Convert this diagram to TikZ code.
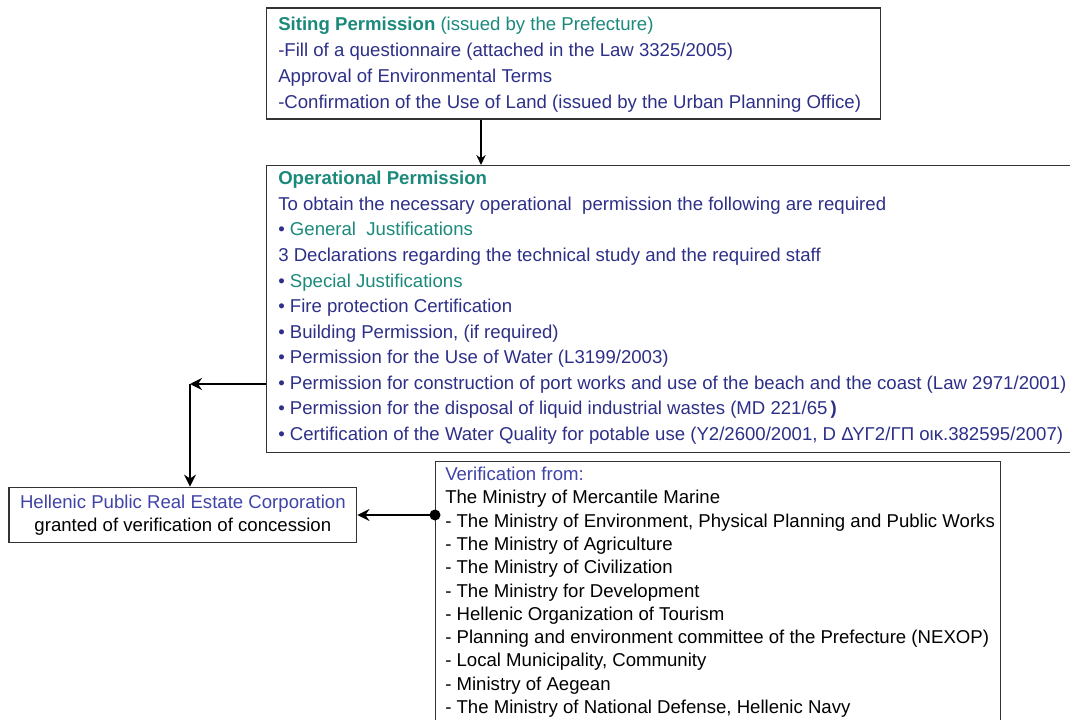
\documentclass[tikz,border=0pt]{standalone}
\usepackage{fontspec}
\setmainfont{Liberation Sans}
\usetikzlibrary{arrows.meta}
\definecolor{teal1}{HTML}{1B8A7C}
\definecolor{navy1}{HTML}{2E3088}
\definecolor{blue1}{HTML}{4044A8}
\definecolor{frame1}{HTML}{333333}
\newcommand{\fsz}{\fontsize{13.95pt}{17pt}\selectfont}
\begin{document}
\begin{tikzpicture}[x=0.75pt,y=-0.75pt,
  box/.style={draw=frame1, line width=1.1pt, anchor=north west, inner sep=0pt, fill=white},
  ln/.style={anchor=base west, inner sep=0pt, font=\fsz, text=navy1},
  hd/.style={ln, text=teal1},
  bl/.style={ln, text=black},
  arr/.style={line width=1.4pt, -{Stealth[length=9pt,width=9pt,inset=3pt]}},
  arrs/.style={line width=1.4pt, -{Stealth[length=7.5pt,width=7pt,inset=2.5pt]}},
  ]
\useasboundingbox (0,0) rectangle (1070,720);
\clip (0,0) rectangle (1070,720);
\fill[white] (0,0) rectangle (1070,720);

% boxes
\node[box, minimum width=460.5pt, minimum height=83.25pt] (siting) at (266,7.5) {};
\node[box, minimum width=625.5pt, minimum height=215pt] (op) at (266,165) {};
\node[draw=frame1, line width=1.1pt, inner sep=0pt, minimum width=260.8pt, minimum height=41.55pt,
      align=center, font=\fontsize{13.95pt}{17.25pt}\selectfont] (hell) at (182.85,515)
      {\textcolor{blue1}{Hellenic Public Real Estate Corporation}\\granted of verification of concession};
\node[box, minimum width=423.75pt, minimum height=224.25pt] (ver) at (435,461) {};

% siting text
\node[hd] (s1) at (278,31) {\textbf{Siting Permission} (issued by the Prefecture)};
\node[ln] (s2) at (278,57) {-Fill of a questionnaire (attached in the Law 3325/2005)};
\node[ln] (s3) at (278,83) {Approval of Environmental Terms};
\node[ln] (s4) at (278,108.5) {-Confirmation of the Use of Land (issued by the Urban Planning Office)};

% operational text
\node[hd] (o1) at (278,185) {\textbf{Operational Permission}};
\node[ln] (o2) at (278,210.5) {To obtain the necessary operational~ permission the following are required};
\node[ln] (o3) at (278,236) {• \textcolor{teal1}{General~ Justifications}};
\node[ln] (o4) at (278,261.5) {3 Declarations regarding the technical study and the required staff};
\node[ln] (o5) at (278,287) {• \textcolor{teal1}{Special Justifications}};
\node[ln] (o6) at (278,312.5) {• Fire protection Certification};
\node[ln] (o7) at (278,338) {• Building Permission, (if required)};
\node[ln] (o8) at (278,363.5) {• Permission for the Use of Water (L3199/2003)};
\node[ln] (o9) at (278,389) {• Permission for construction of port works and use of the beach and the coast (Law 2971/2001)};
\node[ln] (o10) at (278,414.5) {• Permission for the disposal of liquid industrial wastes (MD 221/65\,\textbf{)}};
\node[ln] (o11) at (278,440) {• Certification of the Water Quality for potable use (Υ2/2600/2001, D ΔΥΓ2/ΓΠ οικ.382595/2007)};

% verification text
\node[ln, text=blue1] (v1) at (445,480.5) {Verification from:};
\node[bl] (v2) at (445,503.8) {The Ministry of Mercantile Marine};
\node[bl] (v3) at (445,527.1) {- The Ministry of Environment, Physical Planning and Public Works};
\node[bl] (v4) at (445,550.4) {- The Ministry of Agriculture};
\node[bl] (v5) at (445,573.7) {- The Ministry of Civilization};
\node[bl] (v6) at (445,597) {- The Ministry for Development};
\node[bl] (v7) at (445,620.3) {- Hellenic Organization of Tourism};
\node[bl] (v8) at (445,643.6) {- Planning and environment committee of the Prefecture (NEXOP)};
\node[bl] (v9) at (445,666.9) {- Local Municipality, Community};
\node[bl] (v10) at (445,690.2) {- Ministry of Aegean};
\node[bl] (v11) at (445,713.5) {- The Ministry of National Defense, Hellenic Navy};

% connectors
\coordinate (top) at (481,0);
\draw[arrs] (siting.south -| top) -- (op.north -| top);
\coordinate (corner) at (190,384);
\draw[arr] (op.west |- corner) -- (corner);
\draw[arr] (corner) -- (hell.north -| corner);
\node[circle, fill=black, inner sep=0pt, minimum size=8.25pt] (dot) at (ver.west |- hell.east) {};
\draw[arr] (dot.center) -- (hell.east);
\end{tikzpicture}
\end{document}
